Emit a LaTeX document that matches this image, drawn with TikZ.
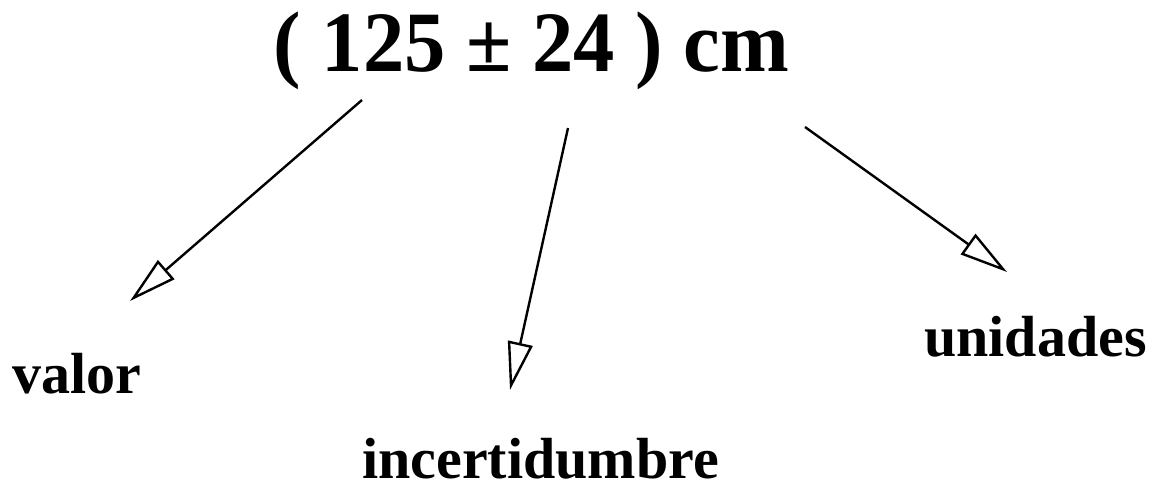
\documentclass[tikz,border=0pt]{standalone}
\usepackage{fontspec}
\setmainfont{Liberation Serif}
\usetikzlibrary{arrows.meta}
\begin{document}
\begin{tikzpicture}[x=1pt,y=-1pt,
  lbl/.style={inner sep=0pt,font=\bfseries\fontsize{58}{62}\selectfont},
  conn/.style={line width=2.4pt,-{Triangle[open,length=48pt,width=25pt,line width=2.4pt,fill=white]}}]
\useasboundingbox (0,0) rectangle (1154,483);
\node[inner sep=0pt,anchor=base,font=\bfseries\fontsize{86}{90}\selectfont] (title) at (531.5,71) {\scalebox{0.96}[1]{( 125 \textpm\ 24 ) cm}};
\node[lbl,anchor=base west] (valor) at (12,393) {valor};
\node[lbl,anchor=base west] (incert) at (362,478) {incertidumbre};
\node[lbl,anchor=base west] (unid) at (924,356) {unidades};
\coordinate (s1) at (362,100);
\coordinate (e1) at (130,301);
\coordinate (s2) at (568,128);
\coordinate (e2) at (510,390);
\coordinate (s3) at (805,127);
\coordinate (e3) at (1007,272);
\draw[conn] (s1) -- (e1);
\draw[conn] (s2) -- (e2);
\draw[conn] (s3) -- (e3);
\end{tikzpicture}
\end{document}
